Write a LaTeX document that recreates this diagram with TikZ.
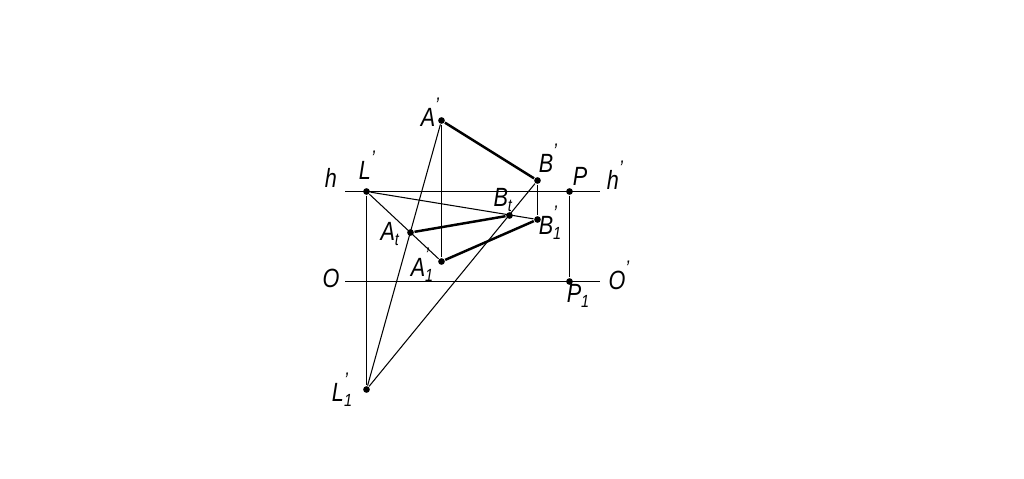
\documentclass[tikz,border=0pt]{standalone}
\usepackage{fontspec}
\setmainfont[FakeStretch=0.82]{Liberation Sans}
\newcommand{\ptname}[3]{\textit{#1}\rlap{\raisebox{1.0ex}{\fontsize{6}{6}\selectfont\textit{#2}}}{\raisebox{-0.35ex}{\fontsize{5}{5}\selectfont\textit{#3}}}}
\tikzset{
    dotpt/.style={circle,fill=black,inner sep=0pt,minimum size=1.9pt},
    thinline/.style={black,line width=0.3pt},
    boldline/.style={black,line width=0.7pt},
    ptlabel/.style={inner sep=0pt,font=\fontsize{7.5}{8}\selectfont}
}
\begin{document}
\begin{tikzpicture}
    \useasboundingbox (0,0) rectangle (10.24,4.78);

    % Points
    \node[dotpt] (Ap) at (4.415,3.575) {};
    \node[dotpt] (Bp) at (5.375,2.975) {};
    \node[dotpt] (Lp) at (3.665,2.865) {};
    \node[dotpt] (P) at (5.695,2.865) {};
    \node[dotpt] (Aone) at (4.415,2.165) {};
    \node[dotpt] (Bone) at (5.375,2.585) {};
    \node[dotpt] (At) at (4.105,2.455) {};
    \node[dotpt] (Bt) at (5.095,2.625) {};
    \node[dotpt] (Pone) at (5.695,1.965) {};
    \node[dotpt] (Lone) at (3.665,0.885) {};
    \coordinate (hl) at (3.45,2.865);
    \coordinate (hr) at (6.00,2.865);
    \coordinate (ol) at (3.45,1.965);
    \coordinate (or) at (6.00,1.965);

    % Horizontal lines
    \draw[thinline] (hl) -- (hr);
    \draw[thinline] (ol) -- (or);

    % Verticals
    \draw[thinline] (Lp) -- (Lone);
    \draw[thinline] (Ap) -- (Aone);
    \draw[thinline] (Bp) -- (Bone);
    \draw[thinline] (P) -- (Pone);

    % Rays
    \draw[thinline] (Lone) -- (Ap);
    \draw[thinline] (Lone) -- (Bp);
    \draw[thinline] (Lp) -- (Aone);
    \draw[thinline] (Lp) -- (Bone);

    % Segments
    \draw[boldline] (Ap) -- (Bp);
    \draw[boldline] (At) -- (Bt);
    \draw[boldline] (Aone) -- (Bone);

    % Labels
    \node[ptlabel] (hlab) at (3.31,3.00) {\textit{h}};
    \node[ptlabel] (hplab) at (6.13,3.00) {\ptname{h}{'}{}};
    \node[ptlabel] (olab) at (3.31,2.00) {\textit{O}};
    \node[ptlabel] (oplab) at (6.17,2.00) {\ptname{O}{'}{}};
    \node[ptlabel] (Aplab) at (4.28,3.63) {\ptname{A}{'}{}};
    \node[ptlabel] (Bplab) at (5.46,3.17) {\ptname{B}{'}{}};
    \node[ptlabel] (Lplab) at (3.65,3.10) {\ptname{L}{'}{}};
    \node[ptlabel] (Plab) at (5.80,3.02) {\textit{P}};
    \node[ptlabel] (Atlab) at (3.90,2.44) {\ptname{A}{}{t}};
    \node[ptlabel] (Btlab) at (5.03,2.78) {\ptname{B}{}{t}};
    \node[ptlabel] (Aolab) at (4.22,2.13) {\ptname{A}{'}{1}};
    \node[ptlabel] (Bolab) at (5.50,2.55) {\ptname{B}{'}{1}};
    \node[ptlabel] (Polab) at (5.78,1.82) {\ptname{P}{}{1}};
    \node[ptlabel] (Lolab) at (3.42,0.88) {\ptname{L}{'}{1}};
\end{tikzpicture}
\end{document}
